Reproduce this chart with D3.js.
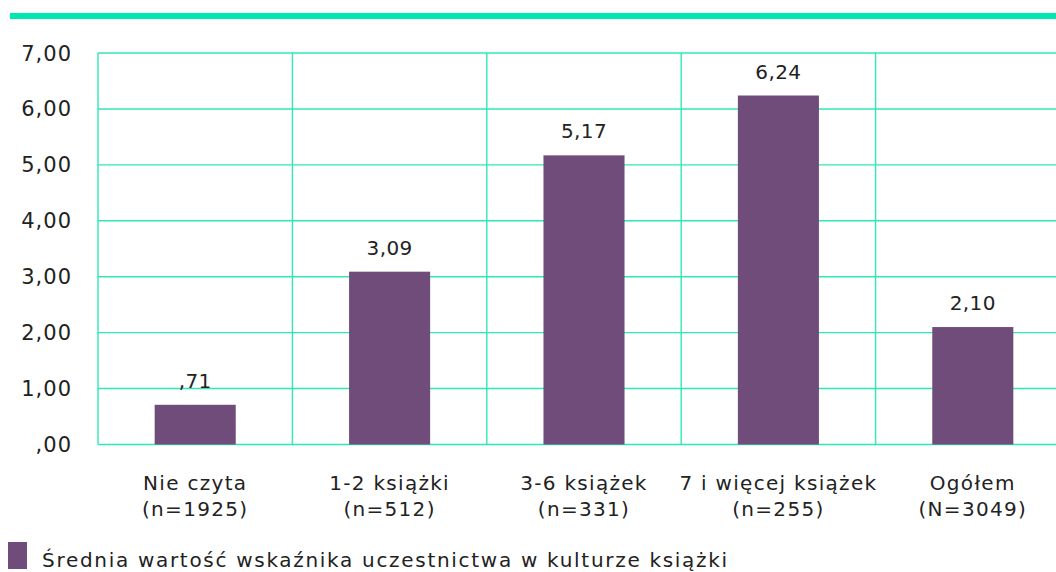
<!DOCTYPE html>
<html>
<head>
<meta charset="utf-8">
<script src="https://cdn.jsdelivr.net/npm/d3@7"></script>
<style>
  body { margin: 0; background: #fff; }
  text { font-family: "DejaVu Sans", sans-serif; fill: #222; }
</style>
</head>
<body>
<svg width="1056" height="572"></svg>
<script>
// Chart values
const categories = ["Nie czyta", "1-2 książki", "3-6 książek", "7 i więcej książek", "Ogółem"];
const sampleSizes = ["(n=1925)", "(n=512)", "(n=331)", "(n=255)", "(N=3049)"];
const values = [0.71, 3.09, 5.17, 6.24, 2.10];
const yTicks = [0, 1, 2, 3, 4, 5, 6, 7];
const legendLabel = "Średnia wartość wskaźnika uczestnictwa w kulturze książki";

const gridColor = "#2ee8b6";
const barColor = "#704c7a";

const svg = d3.select("svg");

// polish number style: comma decimal, no leading zero
const pl = d3.formatLocale({decimal: ",", thousands: " ", grouping: [3], currency: ["", " zł"]});
const fmt = v => pl.format(".2f")(v).replace(/^0/, "");

const plotLeft = 98, plotTop = 53, plotBottom = 444.5, step = 194.4;

const x = d3.scaleBand()
    .domain(categories)
    .range([plotLeft, plotLeft + step * categories.length]);

const y = d3.scaleLinear()
    .domain([0, 7])
    .range([plotBottom, plotTop]);

// top accent band
svg.append("rect")
    .attr("x", 10).attr("y", 13)
    .attr("width", 1046).attr("height", 6)
    .attr("fill", "#00e8b0");

// horizontal grid
svg.append("g")
    .selectAll("line")
    .data(yTicks)
    .enter().append("line")
    .attr("x1", plotLeft).attr("x2", x.range()[1])
    .attr("y1", d => y(d)).attr("y2", d => y(d))
    .attr("stroke", gridColor)
    .attr("stroke-width", 1.4);

// vertical grid
svg.append("g")
    .selectAll("line")
    .data(categories)
    .enter().append("line")
    .attr("x1", d => x(d)).attr("x2", d => x(d))
    .attr("y1", plotTop).attr("y2", plotBottom)
    .attr("stroke", gridColor)
    .attr("stroke-width", 1.4);

// y labels
svg.append("g")
    .selectAll("text")
    .data(yTicks)
    .enter().append("text")
    .attr("x", 72)
    .attr("y", d => y(d))
    .attr("dy", "0.36em")
    .attr("text-anchor", "end")
    .style("font-size", "21px")
    .style("letter-spacing", "1px")
    .text(d => fmt(d));

// bars
const barW = x.bandwidth() * 0.417;
svg.append("g")
    .selectAll("rect")
    .data(values)
    .enter().append("rect")
    .attr("x", (d, i) => x(categories[i]) + x.bandwidth() / 2 - barW / 2)
    .attr("y", d => y(d))
    .attr("width", barW)
    .attr("height", d => y(0) - y(d))
    .attr("fill", barColor);

// value labels
svg.append("g")
    .selectAll("text")
    .data(values)
    .enter().append("text")
    .attr("x", (d, i) => x(categories[i]) + x.bandwidth() / 2)
    .attr("y", d => y(d) - 17)
    .attr("text-anchor", "middle")
    .style("font-size", "20px")
    .style("letter-spacing", "0.4px")
    .text(d => fmt(d));

// category labels
const cat = svg.append("g")
    .selectAll("text")
    .data(categories)
    .enter().append("text")
    .attr("text-anchor", "middle")
    .style("font-size", "20px")
    .style("letter-spacing", "1.3px");
cat.append("tspan")
    .attr("x", d => x(d) + x.bandwidth() / 2)
    .attr("y", 490)
    .text(d => d);
cat.append("tspan")
    .attr("x", d => x(d) + x.bandwidth() / 2)
    .attr("y", 516)
    .text((d, i) => sampleSizes[i]);

// legend
svg.append("rect")
    .attr("x", 8).attr("y", 542)
    .attr("width", 19).attr("height", 27)
    .attr("fill", barColor);
svg.append("text")
    .attr("x", 42).attr("y", 567)
    .style("font-size", "20px")
    .style("letter-spacing", "1.7px")
    .text(legendLabel);
</script>
</body>
</html>
